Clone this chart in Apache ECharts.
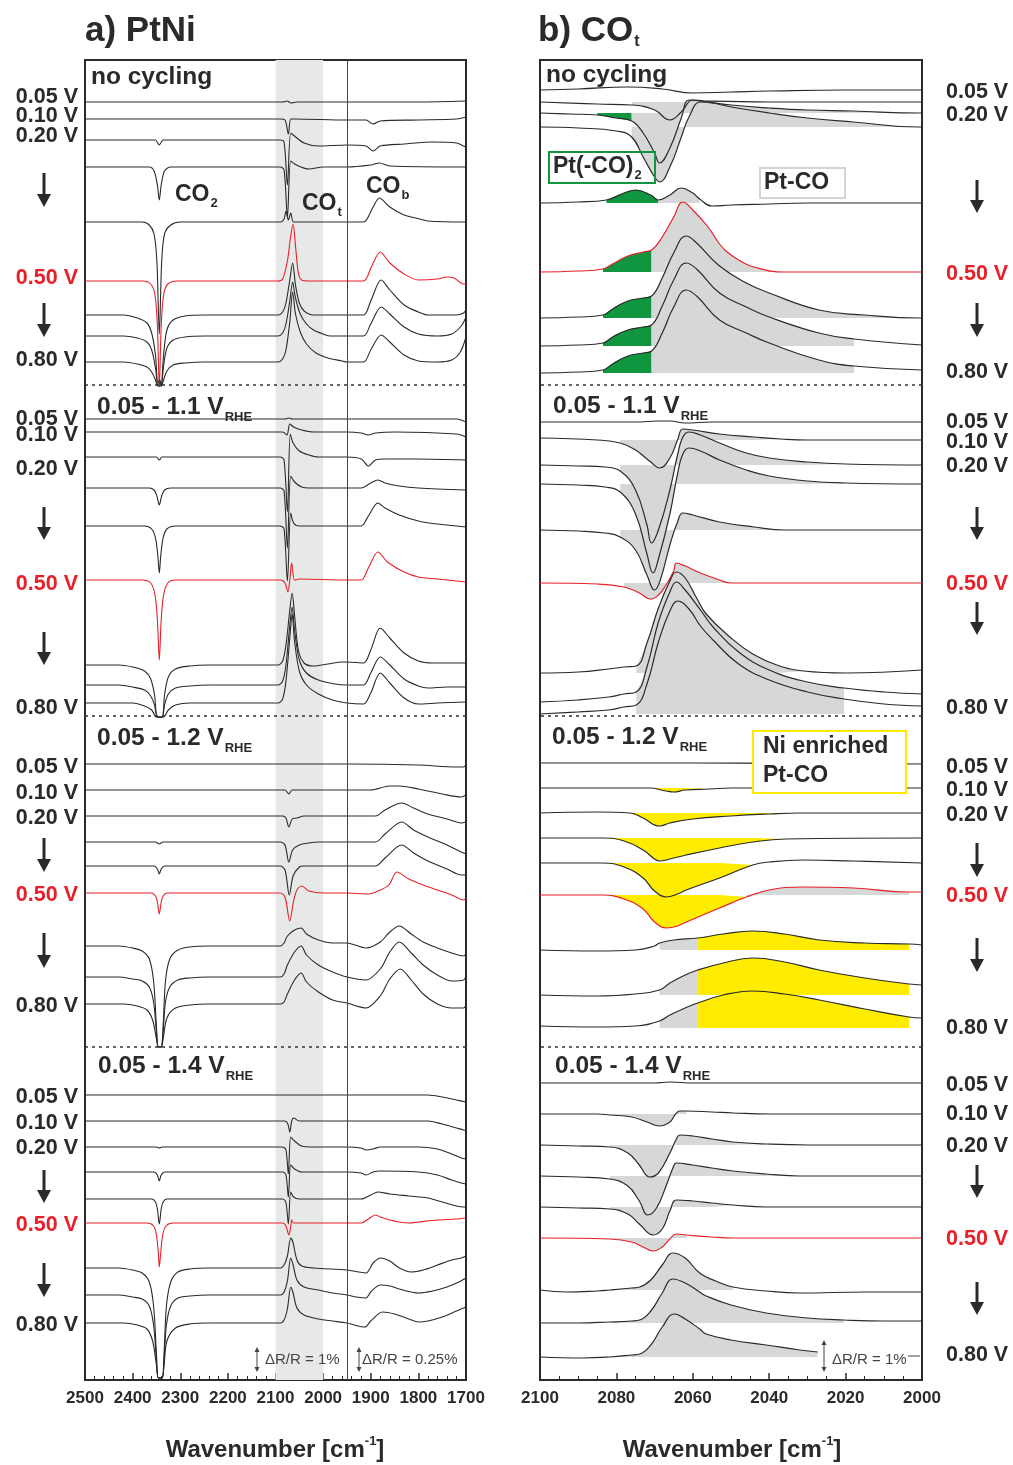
<!DOCTYPE html>
<html><head><meta charset="utf-8">
<script src="https://cdn.jsdelivr.net/npm/echarts@6/dist/echarts.min.js"></script>
<style>html,body{margin:0;padding:0;background:#fff}#c{width:1013px;height:1465px}</style>
</head><body><div id="c"></div><script>
// ---------------- DATA ----------------
// Left panel (a) PtNi: wavenumber 2500-1700 cm-1; each trace = [wavenumber, signal(a.u.)] with vertical offsets (a.u.)
const L_TICKS = [2500, 2400, 2300, 2200, 2100, 2000, 1900, 1800, 1700];
const R_TICKS = [2100, 2080, 2060, 2040, 2020, 2000];
const POTENTIALS = ['0.05 V', '0.10 V', '0.20 V', '0.50 V', '0.80 V'];
const POT_RIGHT_S1 = ['0.05 V', '0.20 V', '0.50 V', '0.80 V'];
const SECTIONS = ['no cycling', '0.05 - 1.1 V', '0.05 - 1.2 V', '0.05 - 1.4 V'];
const SEPARATORS = [995, 664, 333];

const L1_OFF = [1278, 1261, 1240, 1213, 1158, 1099, 1065, 1044, 1018];
const L1 = [
 [[2500,0],[2200,0],[2085,0],[2075,1],[2068,-1],[2055,0],[1950,0],[1800,0],[1700,1]],
 [[2500,0],[2300,0],[2090,0],[2080,-1],[2073,-15],[2068,0],[2060,0],[1950,-1],[1910,-1],[1895,-5],[1880,-2],[1800,-1],[1720,0],[1700,2]],
 [[2500,0],[2360,0],[2352,0],[2344,-5],[2336,0],[2300,0],[2090,0],[2082,-2],[2075,-45],[2068,7],[2060,4],[2040,-3],[2010,-6],[1950,-5],[1910,-6],[1895,-11],[1880,-6],[1830,-4],[1770,-2],[1720,-3],[1705,-6],[1700,-7]],
 [[2500,0],[2365,0],[2355,-4],[2348,-18],[2344,-33],[2340,-18],[2333,-4],[2320,0],[2090,0],[2082,-3],[2075,-50],[2068,6],[2060,3],[2030,-2],[2000,0],[1950,0],[1900,2],[1882,4],[1860,1],[1700,0]],
 [[2500,0],[2380,0],[2365,-3],[2355,-12],[2349,-40],[2344,-112],[2339,-40],[2333,-12],[2320,-3],[2300,0],[2090,0],[2082,3],[2078,11],[2073,2],[2068,9],[2062,0],[2040,0],[1950,0],[1915,0],[1895,15],[1882,24],[1860,15],[1830,7],[1805,4],[1780,1],[1700,0]],
 [[2500,0],[2380,0],[2362,-3],[2353,-14],[2348,-45],[2344,-106],[2340,-45],[2335,-14],[2326,-3],[2305,0],[2095,0],[2085,2],[2075,20],[2068,45],[2063,57],[2058,35],[2052,8],[2045,1],[2030,0],[1950,0],[1915,0],[1898,15],[1880,29],[1860,18],[1830,7],[1800,1],[1760,2],[1740,4],[1725,3],[1705,-3],[1700,-3]],
 [[2500,0],[2420,0],[2390,-3],[2370,-8],[2360,-18],[2352,-40],[2347,-68],[2343,-65],[2340,-70],[2335,-40],[2328,-15],[2315,-5],[2290,-1],[2250,0],[2095,0],[2085,3],[2078,12],[2070,35],[2064,52],[2058,30],[2050,12],[2040,4],[2020,0],[1950,0],[1915,0],[1900,14],[1878,35],[1860,25],[1830,10],[1800,3],[1780,0],[1720,0],[1705,2],[1700,5]],
 [[2500,0],[2420,0],[2390,-2],[2370,-6],[2360,-14],[2352,-32],[2347,-50],[2343,-47],[2340,-50],[2335,-30],[2328,-12],[2315,-4],[2290,-1],[2250,0],[2095,0],[2085,3],[2078,12],[2070,35],[2064,54],[2058,38],[2048,22],[2035,12],[2020,6],[2000,2],[1985,0],[1950,0],[1915,0],[1900,12],[1878,29],[1860,22],[1830,9],[1800,2],[1760,0],[1730,2],[1710,10],[1700,19]],
 [[2500,0],[2420,0],[2390,-2],[2370,-5],[2360,-10],[2352,-18],[2347,-24],[2340,-24],[2335,-18],[2328,-9],[2315,-3],[2290,-1],[2250,0],[2095,0],[2085,3],[2078,12],[2070,40],[2064,70],[2058,48],[2048,30],[2035,18],[2015,9],[1990,4],[1960,1],[1950,0],[1915,0],[1900,12],[1878,27],[1860,20],[1830,7],[1800,1],[1760,0],[1730,2],[1712,10],[1700,25]]
];
const L2_OFF = [961, 948, 923, 892, 854, 800, 715, 695, 677];
const L2 = [
 [[2500,0],[2080,0],[2072,1],[2065,0],[1950,0],[1720,0],[1705,-2],[1700,-3]],
 [[2500,0],[2085,0],[2076,-3],[2070,8],[2062,5],[2045,2],[2020,0],[1950,0],[1920,-1],[1905,-3],[1890,-1],[1850,0],[1720,-2],[1700,-5]],
 [[2500,0],[2350,0],[2344,-3],[2338,0],[2090,0],[2082,-3],[2075,-55],[2069,23],[2063,14],[2050,6],[2030,2],[2010,0],[1950,0],[1920,-2],[1905,-9],[1890,-3],[1870,-2],[1800,-2],[1700,-3]],
 [[2500,0],[2365,0],[2355,-2],[2349,-8],[2344,-17],[2339,-8],[2333,-2],[2320,0],[2090,0],[2082,-3],[2075,-60],[2068,12],[2060,6],[2045,1],[2030,0],[1950,0],[1920,0],[1900,5],[1885,8],[1870,5],[1840,2],[1800,0],[1700,-2]],
 [[2500,0],[2375,0],[2360,-3],[2352,-12],[2347,-30],[2344,-47],[2341,-30],[2336,-12],[2328,-3],[2310,0],[2090,0],[2082,-3],[2075,-55],[2068,13],[2062,3],[2050,0],[1950,0],[1920,0],[1905,10],[1885,23],[1870,18],[1840,11],[1800,5],[1760,2],[1700,-1]],
 [[2500,0],[2380,0],[2362,-3],[2353,-15],[2348,-40],[2344,-80],[2340,-40],[2335,-15],[2326,-3],[2310,0],[2090,0],[2080,-3],[2074,-12],[2070,0],[2066,17],[2060,0],[2050,1],[1950,0],[1920,0],[1905,12],[1885,28],[1865,18],[1830,8],[1800,3],[1760,1],[1700,-2]],
 [[2500,0],[2430,0],[2400,-2],[2375,-6],[2362,-14],[2354,-30],[2348,-52],[2338,-52],[2333,-30],[2325,-12],[2310,-4],[2280,-1],[2240,0],[2095,0],[2085,4],[2078,20],[2070,55],[2065,72],[2060,50],[2052,15],[2040,2],[2020,-1],[1990,1],[1960,3],[1950,3],[1915,2],[1900,15],[1880,37],[1860,27],[1830,12],[1800,4],[1770,2],[1700,2]],
 [[2500,0],[2430,0],[2400,-2],[2375,-5],[2362,-11],[2354,-20],[2348,-32],[2338,-32],[2333,-20],[2325,-9],[2310,-3],[2280,-1],[2240,0],[2095,0],[2085,4],[2078,20],[2070,60],[2065,78],[2060,55],[2050,25],[2035,12],[2010,5],[1975,1],[1950,0],[1915,0],[1900,12],[1880,28],[1860,20],[1830,6],[1800,-1],[1780,-3],[1740,-2],[1700,-2]],
 [[2500,0],[2400,0],[2375,-3],[2360,-7],[2350,-14],[2335,-14],[2325,-7],[2310,-2],[2280,0],[2095,0],[2085,4],[2078,22],[2070,65],[2065,89],[2060,62],[2050,32],[2035,18],[2010,9],[1980,3],[1950,0],[1915,-1],[1900,10],[1880,30],[1860,20],[1830,5],[1800,-1],[1760,0],[1700,1]]
];
const L3_OFF = [616, 590, 564, 538, 514, 487, 434, 403, 376];
const L3 = [
 [[2500,0],[1950,0],[1800,-1],[1720,-3],[1705,-3],[1700,-1]],
 [[2500,0],[2080,0],[2072,-4],[2065,0],[2040,0],[1950,0],[1900,0],[1860,4],[1840,4],[1800,1],[1750,-4],[1710,-7],[1700,-5]],
 [[2500,0],[2085,0],[2078,-2],[2072,-11],[2065,-3],[2055,-2],[2040,0],[1950,0],[1890,0],[1870,6],[1835,13],[1810,8],[1780,2],[1740,-3],[1710,-7],[1700,-6]],
 [[2500,0],[2352,0],[2344,-2],[2336,0],[2090,0],[2080,-3],[2072,-20],[2064,-8],[2050,-3],[2030,-1],[2010,0],[1950,0],[1890,0],[1870,8],[1835,20],[1810,12],[1780,5],[1740,-3],[1710,-10],[1700,-12]],
 [[2500,0],[2355,0],[2348,-3],[2344,-8],[2340,-3],[2333,0],[2090,0],[2080,-4],[2071,-29],[2063,-10],[2050,-1],[2040,0],[1950,0],[1890,0],[1870,8],[1835,21],[1810,13],[1780,5],[1740,-3],[1710,-9],[1700,-9]],
 [[2500,0],[2360,0],[2352,-3],[2348,-9],[2344,-21],[2340,-9],[2336,-3],[2328,0],[2090,0],[2080,-4],[2070,-28],[2062,-8],[2055,3],[2045,7],[2030,2],[2000,0],[1950,0],[1905,-1],[1880,3],[1862,8],[1845,21],[1820,14],[1790,8],[1760,3],[1730,-2],[1705,-7],[1700,-5]],
 [[2500,0],[2430,0],[2400,-2],[2380,-5],[2365,-13],[2356,-35],[2350,-80],[2346,-101],[2340,-101],[2336,-80],[2331,-35],[2322,-13],[2305,-4],[2280,-1],[2240,0],[2090,0],[2082,3],[2075,10],[2060,16],[2046,18],[2035,12],[2010,6],[1980,3],[1950,3],[1910,-2],[1880,4],[1860,14],[1840,20],[1815,12],[1790,4],[1760,-2],[1730,-7],[1705,-10],[1700,-8]],
 [[2500,0],[2430,0],[2400,-2],[2380,-4],[2365,-10],[2356,-25],[2350,-55],[2346,-70],[2340,-70],[2336,-55],[2331,-25],[2322,-10],[2305,-3],[2280,-1],[2240,0],[2090,0],[2082,3],[2075,12],[2060,25],[2046,31],[2035,22],[2010,12],[1980,5],[1950,0],[1910,-3],[1880,8],[1860,25],[1840,35],[1815,24],[1790,12],[1760,2],[1730,-4],[1705,-3],[1700,2]],
 [[2500,0],[2420,0],[2390,-2],[2370,-6],[2358,-16],[2350,-35],[2346,-43],[2340,-43],[2336,-35],[2328,-14],[2310,-4],[2280,-1],[2240,0],[2090,0],[2082,2],[2075,10],[2060,24],[2046,31],[2035,22],[2010,12],[1980,4],[1950,1],[1930,-2],[1910,-4],[1880,8],[1860,25],[1838,35],[1815,24],[1790,10],[1760,0],[1730,-4],[1705,-4],[1700,-1]]
];
const L4_OFF = [285, 259, 233, 208, 181, 157, 112, 85, 57];
const L4 = [
 [[2500,0],[1950,0],[1780,0],[1750,-2],[1720,-5],[1700,-7]],
 [[2500,0],[2080,0],[2074,-3],[2070,-11],[2066,0],[2062,3],[2050,0],[1950,0],[1780,0],[1750,-3],[1720,-7],[1705,-9],[1700,-10]],
 [[2500,0],[2350,0],[2344,-1],[2338,0],[2085,0],[2078,-3],[2073,-27],[2068,10],[2060,6],[2045,1],[2020,0],[1950,0],[1920,-1],[1910,-3],[1895,-2],[1880,0],[1800,0],[1760,-2],[1730,-7],[1710,-11],[1700,-12]],
 [[2500,0],[2355,0],[2348,-3],[2344,-9],[2340,-3],[2333,0],[2085,0],[2078,-3],[2073,-25],[2068,7],[2060,3],[2045,0],[1950,0],[1920,-1],[1910,-3],[1895,0],[1880,1],[1800,0],[1760,-3],[1730,-8],[1710,-11],[1700,-12]],
 [[2500,0],[2360,0],[2352,-3],[2348,-10],[2344,-25],[2340,-10],[2336,-3],[2328,0],[2085,0],[2078,-4],[2073,-25],[2068,7],[2062,2],[2050,0],[1950,0],[1920,0],[1900,4],[1885,7],[1860,5],[1820,3],[1780,1],[1750,-3],[1720,-7],[1705,-8],[1700,-8]],
 [[2500,0],[2370,0],[2356,-3],[2350,-12],[2346,-30],[2344,-44],[2341,-30],[2337,-12],[2330,-3],[2315,0],[2085,0],[2078,-3],[2072,-12],[2068,-3],[2066,3],[2062,0],[1950,0],[1920,0],[1905,4],[1890,8],[1880,6],[1860,3],[1840,1],[1820,0],[1800,1],[1760,3],[1720,4],[1700,5]],
 [[2500,0],[2430,0],[2400,-2],[2380,-5],[2365,-14],[2356,-38],[2350,-85],[2346,-110],[2338,-110],[2334,-85],[2329,-38],[2320,-14],[2305,-4],[2280,-1],[2240,0],[2090,0],[2082,3],[2075,12],[2068,30],[2063,25],[2055,8],[2045,2],[2020,0],[1950,-2],[1925,-4],[1910,-5],[1895,5],[1880,10],[1860,7],[1840,0],[1815,-4],[1790,-2],[1760,3],[1730,8],[1710,10],[1700,12]],
 [[2500,0],[2430,0],[2400,-2],[2380,-4],[2365,-11],[2356,-30],[2350,-65],[2346,-83],[2338,-83],[2334,-65],[2329,-30],[2320,-11],[2305,-3],[2280,-1],[2240,0],[2090,0],[2082,3],[2075,14],[2068,37],[2063,30],[2055,15],[2040,8],[2010,5],[1980,2],[1950,0],[1930,-2],[1910,-3],[1900,3],[1880,10],[1860,9],[1840,6],[1800,2],[1770,4],[1740,8],[1715,13],[1700,17]],
 [[2500,0],[2420,0],[2390,-2],[2370,-6],[2358,-18],[2350,-42],[2346,-55],[2338,-55],[2334,-42],[2328,-18],[2310,-5],[2280,-1],[2240,0],[2090,0],[2082,3],[2075,14],[2068,36],[2063,30],[2055,15],[2040,8],[2010,4],[1980,2],[1950,0],[1935,-2],[1912,-4],[1900,2],[1875,11],[1850,9],[1820,4],[1800,1],[1780,2],[1750,6],[1720,12],[1700,16]]
];

// Right panel (b) CO_t: wavenumber 2100-2000 cm-1
const R1_OFF = [1290, 1278, 1267, 1253, 1177, 1108, 1062, 1034, 1007];
const R1 = [
 [[2100,0],[2090,1],[2077,3],[2068,1],[2060,-3],[2050,-2],[2040,-1],[2020,0],[2000,0]],
 [[2100,0],[2085,-2],[2076,-3],[2070,-8],[2066,-18],[2063,-10],[2060,2],[2057,1],[2040,0],[2001,0],[2000,0]],
 [[2100,0],[2092,-1],[2085,-2],[2080,-5],[2076,-8],[2073,-20],[2070,-40],[2068.7,-50],[2066,-35],[2063,-5],[2061,13],[2058,12],[2050,8],[2040,5],[2030,3],[2018,2],[2001,0],[2000,0]],
 [[2100,0],[2090,-1],[2080,-4],[2076,-10],[2073,-30],[2070,-50],[2068.7,-55],[2066,-40],[2063,-10],[2061,10],[2058,25],[2055,24],[2050,20],[2040,14],[2030,9],[2018,5],[2001,0],[2000,0]],
 [[2100,0],[2090,1],[2082.6,3],[2078,10],[2075,13],[2071,8],[2069.1,3],[2066,8],[2063,15],[2060,10],[2058.2,4],[2055,-3],[2050,-2],[2040,-1],[2030,0],[2000,0]],
 [[2100,0],[2090,1],[2083.5,3],[2081,8],[2077,16],[2073,20],[2070.8,22],[2068,35],[2065,55],[2062.6,70],[2060,62],[2056,45],[2053,28],[2051,20],[2048,12],[2044,5],[2036,0],[2001,0],[2000,0]],
 [[2100,0],[2090,1],[2083.5,3],[2081,9],[2077,17],[2073,20],[2070.8,22],[2068,40],[2065,65],[2061.7,82],[2059,75],[2053,52],[2046,35],[2040,25],[2027,8],[2015,3],[2001,0],[2000,0]],
 [[2100,0],[2090,1],[2083.5,3],[2081,9],[2077,16],[2073,19],[2070.8,21],[2068,40],[2065,66],[2061.7,83],[2059,77],[2053,53],[2046,39],[2040,29],[2027,13],[2017.8,7],[2000,1]],
 [[2100,0],[2090,1],[2083.5,3],[2081,9],[2077,17],[2073,20],[2070.8,22],[2068,40],[2065,66],[2061.7,83],[2059,77],[2053,53],[2046,40],[2040,30],[2027,13],[2017.8,7],[2000,3]]
];
const R1_GRAY = [null,[2076,2001],[2076,2001],[2076,2001],[2069.1,2058.2],[2070.8,2001],[2070.8,2001],[2070.8,2017.8],[2070.8,2017.8]];
const R1_GREEN = [null,null,[2085,2076],null,[2082.6,2069.1],[2083.5,2070.8],[2083.5,2070.8],[2083.5,2070.8],[2083.5,2070.8]];

const R2_OFF = [958, 940, 915, 896, 850, 797, 707, 678, 666];
const R2 = [
 [[2100,0],[2075,0],[2069,1],[2066,1],[2062,-1],[2055,0],[2000,0]],
 [[2100,2],[2085,0],[2079,-3],[2075,-10],[2071,-22],[2068.7,-28],[2066,-18],[2064,0],[2062.6,11],[2060,10],[2053,6],[2044,3],[2037,1],[2030,0],[2000,0]],
 [[2100,0],[2090,-1],[2083,-2],[2079,-6],[2075,-25],[2072,-60],[2070.8,-78],[2069,-65],[2066,-25],[2064,10],[2062.6,28],[2061,33],[2058,30],[2053,22],[2046,12],[2040,7],[2030,3],[2020,1],[2000,0]],
 [[2100,0],[2090,-1],[2083,-3],[2079,-8],[2075,-30],[2072,-70],[2070.4,-89],[2069,-75],[2066,-30],[2064,10],[2062.6,30],[2061,36],[2058,33],[2053,24],[2046,14],[2040,8],[2030,3],[2020,1],[2000,0]],
 [[2100,0],[2090,-1],[2083,-3],[2079,-7],[2075,-20],[2072,-45],[2070,-60],[2068.5,-50],[2066,-15],[2064,8],[2062.6,17],[2060,15],[2053,8],[2044,3],[2036,0],[2000,0]],
 [[2100,0],[2085,-1],[2078,-4],[2074,-10],[2071,-16],[2069,-12],[2067,-2],[2065,12],[2064.3,20],[2062,17],[2058,10],[2053,3],[2050,0],[2000,0]],
 [[2100,0],[2090,1],[2082,4],[2078,6],[2074.8,7],[2072,30],[2069,65],[2066,92],[2064.3,101],[2062,95],[2059,75],[2056.5,59],[2050,35],[2044.3,19],[2038,8],[2031,2],[2020,0],[2000,3]],
 [[2100,0],[2090,2],[2082,5],[2078,8],[2074.8,10],[2072,35],[2069,80],[2066,110],[2064.3,120],[2062,112],[2058,92],[2054.7,75],[2048,50],[2040,32],[2030,20],[2020.4,14],[2010,10],[2000,8]],
 [[2100,0],[2090,2],[2082,4],[2078,7],[2074.8,9],[2072,30],[2069,72],[2066,103],[2063.9,113],[2061,105],[2058,88],[2054.7,74],[2048,50],[2040,34],[2030,22],[2020.4,15],[2010,10],[2000,8]]
];
const R2_GRAY = [null,[2079,2037],[2079,2020],[2079,2020],[2079,2036],[2078,2050],[2074.8,2031],[2074.8,2020.4],[2074.8,2020.4]];

const R3_OFF = [617, 592, 567, 542, 517, 485, 430, 385, 352];
const R3 = [
 [[2100,0],[2060,0],[2000,-1]],
 [[2100,0],[2071.3,0],[2067,-3],[2065,-4],[2062,-2],[2055.6,-1],[2050,0],[2000,0]],
 [[2100,0],[2085,1],[2076.5,0],[2073,-5],[2068.7,-13],[2066,-10],[2060,-6],[2050,-3],[2040,-1],[2032.1,0],[2000,0]],
 [[2100,0],[2083.5,0],[2078,-3],[2073,-12],[2070,-21],[2068.7,-23],[2066,-21],[2061.7,-17],[2053,-10],[2044.3,-4],[2035.6,-1],[2000,0]],
 [[2100,0],[2083.5,0],[2078,-4],[2073,-15],[2070,-28],[2066.9,-34],[2064,-31],[2061.7,-27],[2053,-15],[2044.3,-2],[2040,1],[2031.2,3],[2018,2],[2000,0]],
 [[2100,0],[2083.5,0],[2078,-4],[2073,-14],[2070,-27],[2066.9,-33],[2064,-31],[2061.7,-27],[2053,-13],[2046,-2],[2040,5],[2031.2,8],[2018,7],[2003.4,3],[2000,3]],
 [[2100,0],[2085,-1],[2075,0],[2070,4],[2068.7,7],[2065,10],[2058.7,12],[2052,16],[2044.3,19],[2036,16],[2026.9,10],[2015,7],[2003.4,6],[2000,5]],
 [[2100,0],[2085,-1],[2075,1],[2068.7,5],[2066,12],[2062,20],[2058.7,25],[2052,32],[2044.3,37],[2036,33],[2026.9,25],[2015,17],[2003.4,11],[2000,10]],
 [[2100,2],[2085,1],[2075,2],[2068.7,7],[2066,13],[2062,20],[2058.7,25],[2052,33],[2044.3,37],[2036,34],[2026.9,28],[2015,19],[2003.4,11],[2000,10]]
];
const R3_YELLOW = [null,[2071.3,2055.6],[2076.5,2032.1],[2083.5,2035.6],[2083.5,2044.3],[2083.5,2046],[2058.7,2003.4],[2058.7,2003.4],[2058.7,2003.4]];
const R3_GRAY = [null,null,null,null,null,[2046,2003.4],[2068.7,2058.7],[2068.7,2058.7],[2068.7,2058.7]];

const R4_OFF = [297, 266, 235, 204, 173, 142, 90, 57, 23];
const R4 = [
 [[2100,0],[2070,0],[2066,1],[2060,0],[2000,0]],
 [[2100,0],[2085,0],[2081.7,-1],[2076,-3],[2072,-8],[2068.7,-12],[2066,-8],[2064.5,0],[2063.4,3],[2061.7,3],[2055,2],[2049.5,1],[2040,0],[2000,0]],
 [[2100,0],[2090,-1],[2081.7,-2],[2077,-8],[2074,-20],[2071.3,-32],[2069,-28],[2066,-8],[2064.3,6],[2063.4,10],[2060,9],[2055,6],[2049.5,3],[2040.8,1],[2030,0],[2000,0]],
 [[2100,0],[2090,-1],[2081.7,-3],[2077,-10],[2074,-25],[2071.8,-39],[2069.5,-32],[2067,-10],[2065.2,8],[2064.3,13],[2060,11],[2055,8],[2049.5,5],[2040.8,2],[2032.1,0],[2000,0]],
 [[2100,0],[2090,-1],[2081.7,-2],[2077,-7],[2074,-17],[2070.4,-28],[2068,-22],[2066,-4],[2064.3,7],[2060,6],[2055,4],[2049.5,2],[2040.8,0],[2000,0]],
 [[2100,0],[2081.7,-1],[2076,-4],[2072.5,-10],[2070.4,-13],[2068,-9],[2066,-1],[2064.3,4],[2061.7,3],[2055,1],[2049.5,0],[2000,0]],
 [[2100,0],[2093,-2],[2085,-1],[2081.7,0],[2076,2],[2073.9,3],[2071,10],[2068,25],[2065.2,37],[2062,32],[2058.2,17],[2054,9],[2049.5,3],[2040.8,-1],[2032,-3],[2015,-2],[2000,-2]],
 [[2100,0],[2090,0],[2081.7,1],[2076,2],[2073.9,3],[2071,12],[2068,30],[2065.2,44],[2062,40],[2058.2,31],[2056.5,27],[2050,18],[2040.8,10],[2030,5],[2020.4,3],[2010,2],[2000,2]],
 [[2100,0],[2088.7,-1],[2081.7,0],[2076,2],[2073.9,3],[2071,12],[2068,30],[2064.8,43],[2062,38],[2058.2,28],[2056.5,23],[2050,17],[2040.8,12],[2032,7],[2027.3,5]]
];
const R4_GRAY = [null,[2081.7,2061.7],[2081.7,2040.8],[2081.7,2032.1],[2081.7,2049.5],[2081.7,2061.7],[2081.7,2049.5],[2081.7,2020.4],[2081.7,2027.3]];

// ---------------- STYLE / BUILD ----------------
const FONT = '"Liberation Sans", Arial, Helvetica, sans-serif';
const INK = '#2a2a2a', RED = '#e8202a', GRAY = '#d6d8d7', GREEN = '#10963e', YELLOW = '#ffec00', BAND = '#e7e9e8';
const SM_L = 0.3, SM_R = 0.45;
const series = [];

function subset(pts, r) {
  const lo = Math.min(r[0], r[1]) - 1e-6, hi = Math.max(r[0], r[1]) + 1e-6;
  return pts.filter(p => p[0] >= lo && p[0] <= hi);
}
function addSection(panel, offs, traces, fills) {
  const sm = panel === 0 ? SM_L : SM_R;
  traces.forEach((pts, i) => {
    const off = offs[i];
    const toData = arr => arr.map(p => [p[0], off + p[1]]);
    (fills || []).forEach(f => {
      const r = f.ranges[i];
      if (!r) return;
      series.push({type: 'line', xAxisIndex: panel, yAxisIndex: panel, data: toData(subset(pts, r)),
        smooth: sm, showSymbol: false, silent: true,
        lineStyle: {width: 0, opacity: 0}, areaStyle: {color: f.color, opacity: 1, origin: off}, z: 2});
    });
    series.push({type: 'line', xAxisIndex: panel, yAxisIndex: panel, data: toData(pts),
      smooth: sm, showSymbol: false, silent: true,
      lineStyle: {color: i === 5 ? RED : INK, width: panel === 0 ? 1.1 : 1.2}, z: 4});
  });
}
addSection(0, L1_OFF, L1); addSection(0, L2_OFF, L2); addSection(0, L3_OFF, L3); addSection(0, L4_OFF, L4);
addSection(1, R1_OFF, R1, [{color: GREEN, ranges: R1_GREEN}, {color: GRAY, ranges: R1_GRAY}]);
addSection(1, R2_OFF, R2, [{color: GRAY, ranges: R2_GRAY}]);
addSection(1, R3_OFF, R3, [{color: YELLOW, ranges: R3_YELLOW}, {color: GRAY, ranges: R3_GRAY}]);
addSection(1, R4_OFF, R4, [{color: GRAY, ranges: R4_GRAY}]);

// decorations: band, separators, vertical line
series.push({type: 'line', xAxisIndex: 0, yAxisIndex: 0, data: [], z: 1, silent: true,
  markArea: {silent: true, itemStyle: {color: BAND}, data: [[{xAxis: 2100}, {xAxis: 2000}]]}});
[0, 1].forEach(p => {
  const d = SEPARATORS.map(v => ({yAxis: v}));
  if (p === 0) d.push({xAxis: 1950, lineStyle: {type: 'solid', color: '#444', width: 1}});
  series.push({type: 'line', xAxisIndex: p, yAxisIndex: p, data: [], z: 6, silent: true,
    markLine: {silent: true, symbol: 'none', animation: false, label: {show: false},
      lineStyle: {type: [3, 4], color: '#333', width: 1.6}, data: d}});
});

function xAxisCfg(grid, min, max, interval, minorSplit) {
  return {type: 'value', gridIndex: grid, min, max, interval, inverse: true, position: 'bottom',
    axisLine: {show: true, onZero: false, lineStyle: {color: INK, width: 2}},
    axisTick: {show: true, inside: true, length: 7, lineStyle: {color: INK, width: 1.5}},
    minorTick: {show: true, splitNumber: minorSplit, length: 4, lineStyle: {color: INK, width: 1}},
    splitLine: {show: false},
    axisLabel: {color: INK, fontSize: 17, fontWeight: 'bold', fontFamily: FONT, margin: 10,
      formatter: v => String(v)}};
}

// ---------------- TEXT / GRAPHICS ----------------
const G = [];
const mctx = document.createElement('canvas').getContext('2d');
function W(text, size, bold) { mctx.font = (bold === false ? '' : 'bold ') + size + 'px ' + FONT; return mctx.measureText(text).width; }
function T(x, y, text, size, o) {
  o = o || {};
  const al = o.align || 'left';
  G.push({type: 'text', x: x, y: y, z: 120, silent: true,
    style: {text: text, fontSize: size, fontWeight: o.bold === false ? 'normal' : 'bold', fontFamily: FONT,
      fill: o.color || INK, align: al, verticalAlign: 'middle', textAlign: al, textVerticalAlign: 'middle'}});
}
function TS(x, y, main, sub, size, subSize, subDy, o) {
  T(x, y, main, size, o);
  if (sub) T(x + W(main, size, !(o && o.bold === false)) + 1, y + subDy, sub, subSize, o);
}
function rect(x, y, w, h, stroke, fill) {
  G.push({type: 'rect', z: 110, silent: true, shape: {x, y, width: w, height: h},
    style: {stroke: stroke || 'none', fill: fill || 'none', lineWidth: 2}});
}
function arrowDown(x, y1, y2) {
  G.push({type: 'line', z: 120, silent: true, shape: {x1: x, y1: y1, x2: x, y2: y2 - 10}, style: {stroke: INK, lineWidth: 3}});
  G.push({type: 'polygon', z: 120, silent: true, shape: {points: [[x - 7, y2 - 13], [x + 7, y2 - 13], [x, y2]]}, style: {fill: INK}});
}
function scaleBar(x, y1, y2) {
  G.push({type: 'line', z: 120, silent: true, shape: {x1: x, y1: y1 + 3, x2: x, y2: y2 - 3}, style: {stroke: '#444', lineWidth: 1}});
  G.push({type: 'polygon', z: 120, silent: true, shape: {points: [[x - 2.5, y1 + 5], [x + 2.5, y1 + 5], [x, y1]]}, style: {fill: '#444'}});
  G.push({type: 'polygon', z: 120, silent: true, shape: {points: [[x - 2.5, y2 - 5], [x + 2.5, y2 - 5], [x, y2]]}, style: {fill: '#444'}});
}

// panel titles
TS(85, 31, 'a) PtNi', '', 35, 14, 0);
TS(538, 31, 'b) CO', 't', 35, 16, 11);
// section titles
T(91, 77, SECTIONS[0], 24.5); T(546, 75, SECTIONS[0], 24.5);
[[97, 407], [97, 738], [98, 1066]].forEach((p, k) => TS(p[0], p[1], SECTIONS[k + 1], 'RHE', 24.5, 13, 10));
[[553, 406], [552, 737], [555, 1066]].forEach((p, k) => TS(p[0], p[1], SECTIONS[k + 1], 'RHE', 24.5, 13, 10));

// potential labels, left (right aligned)
const L_LAB_Y = [[96.7, 116, 136, 278.3, 360], [419, 435, 469, 584, 708], [766.7, 792.7, 818.3, 895, 1006], [1096.7, 1122.7, 1148.3, 1225, 1325]];
L_LAB_Y.forEach(ys => ys.forEach((y, j) => T(78, y, POTENTIALS[j], 21.5, {align: 'right', color: j === 3 ? RED : INK})));
const R_LAB_Y = [[422.4, 441.7, 466, 584, 708.3], [766.7, 790, 815, 896, 1028.3], [1085, 1114, 1146, 1239.3, 1355]];
[[91.7, 115, 274, 371.7]].forEach(ys => ys.forEach((y, j) => T(946, y, POT_RIGHT_S1[j], 21.5, {color: j === 2 ? RED : INK})));
R_LAB_Y.forEach(ys => ys.forEach((y, j) => T(946, y, POTENTIALS[j], 21.5, {color: j === 3 ? RED : INK})));

// arrows
[[173, 207], [303, 337], [507, 540], [632, 665], [838, 872], [933, 968], [1170, 1203], [1263, 1297]].forEach(a => arrowDown(44, a[0], a[1]));
[[180, 213], [303, 337], [507, 540], [602, 635], [843, 877], [938, 972], [1165, 1198], [1282, 1315]].forEach(a => arrowDown(977, a[0], a[1]));

// band annotations (left)
TS(175, 195, 'CO', '2', 23, 13, 8);
TS(302, 204, 'CO', 't', 23, 13, 8);
TS(366, 187, 'CO', 'b', 23, 13, 8);

// boxes (right)
rect(549, 152, 106, 31, GREEN, 'none');
TS(553, 167, 'Pt(-CO)', '2', 23, 13, 8);
rect(760, 168, 85, 30, '#d4d4d4', '#fff');
T(764, 183, 'Pt-CO', 23);
rect(753, 731, 153, 62, '#ffe800', '#fff');
T(763, 747, 'Ni enriched', 23);
T(763, 776, 'Pt-CO', 23);

// scale bars
scaleBar(257, 1347, 1372); T(265, 1360, 'ΔR/R = 1%', 15, {bold: false, color: '#444'});
scaleBar(359, 1347, 1372); T(362, 1360, 'ΔR/R = 0.25%', 15, {bold: false, color: '#444'});
rect(818, 1338, 94, 35, 'none', '#fff');
scaleBar(824, 1340, 1372); T(832, 1360, 'ΔR/R = 1%', 15, {bold: false, color: '#444'});
G.push({type: 'line', z: 120, silent: true, shape: {x1: 908, y1: 1356, x2: 920, y2: 1356}, style: {stroke: '#444', lineWidth: 1}});

// axis titles with superscript
function axisTitle(cx, y) {
  const a = 'Wavenumber [cm', s = '-1', b = ']';
  const wa = W(a, 24), ws = W(s, 13), wb = W(b, 24);
  const x0 = cx - (wa + ws + wb) / 2;
  T(x0, y, a, 24); T(x0 + wa, y - 9, s, 13); T(x0 + wa + ws, y, b, 24);
}
axisTitle(275, 1450); axisTitle(732, 1450);

const option = {
  animation: false,
  backgroundColor: '#fff',
  grid: [
    {left: 85, top: 60, width: 381, height: 1320, show: true, borderColor: INK, borderWidth: 2, containLabel: false},
    {left: 540, top: 60, width: 382, height: 1320, show: true, borderColor: INK, borderWidth: 2, containLabel: false}
  ],
  xAxis: [xAxisCfg(0, L_TICKS[L_TICKS.length - 1], L_TICKS[0], 100, 5), xAxisCfg(1, R_TICKS[R_TICKS.length - 1], R_TICKS[0], 20, 4)],
  yAxis: [
    {type: 'value', gridIndex: 0, min: 0, max: 1320, show: false, splitLine: {show: false}},
    {type: 'value', gridIndex: 1, min: 0, max: 1320, show: false, splitLine: {show: false}}
  ],
  series: series,
  graphic: {elements: G}
};
const chart = echarts.init(document.getElementById('c'), null, {renderer: 'canvas'});
chart.setOption(option);
</script></body></html>
